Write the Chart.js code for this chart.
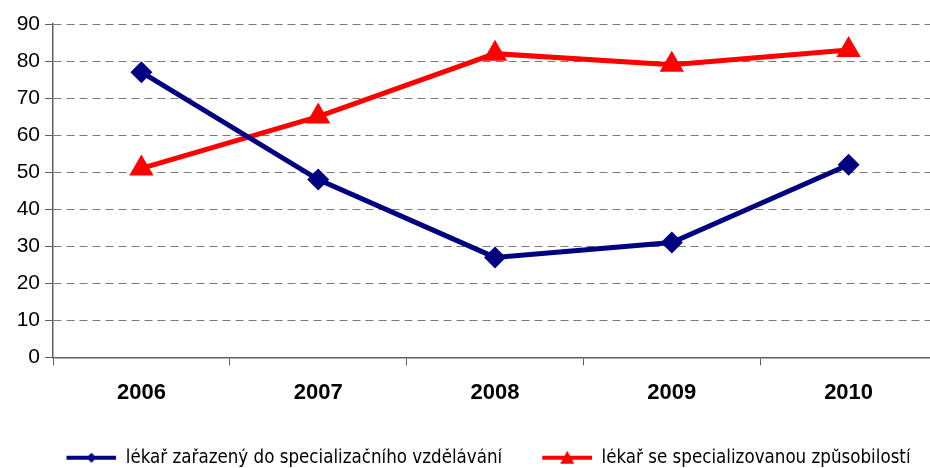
<!DOCTYPE html>
<html lang="cs">
<head>
    <meta charset="UTF-8">
    <title>Lékaři 2006-2010</title>
    <script src="https://cdn.jsdelivr.net/npm/chart.js"></script>
    <style>
        html, body { margin: 0; padding: 0; background: #fff; overflow: hidden; }
        /* graf je o kousek sirsi nez okno, prava hrana je orizla jako v originale */
        .chart-box { width: 937px; height: 468px; }
    </style>
</head>
<body>
    <div class="chart-box">
        <canvas id="lekariChart" width="937" height="468"></canvas>
    </div>

    <script>
        const years = ['2006', '2007', '2008', '2009', '2010'];
        const yTicks = [0, 10, 20, 30, 40, 50, 60, 70, 80, 90];
        const vzdelavani = [77, 48, 27, 31, 52];
        const zpusobilost = [51, 65, 82, 79, 83];
        const seriesNames = ['lékař zařazený do specializačního vzdělávání', 'lékař se specializovanou způsobilostí'];

        // ikonka do legendy: prazdne misto vlevo, pak cara + znacka
        function legendIcon(color, shape) {
            const c = document.createElement('canvas');
            c.width = 90;
            c.height = 16;
            const g = c.getContext('2d');
            g.strokeStyle = color;
            g.fillStyle = color;
            g.lineWidth = 4;
            g.beginPath();
            g.moveTo(40, 8);
            g.lineTo(90, 8);
            g.stroke();
            g.beginPath();
            if (shape === 'diamond') {
                g.moveTo(65, 3); g.lineTo(70, 8); g.lineTo(65, 13); g.lineTo(60, 8);
            } else {
                g.moveTo(65, 1); g.lineTo(72, 14); g.lineTo(58, 14);
            }
            g.closePath();
            g.fill();
            return c;
        }
        const icons = [legendIcon('#000080', 'diamond'), legendIcon('#ff0000', 'triangle')];

        const ctx = document.getElementById('lekariChart').getContext('2d');
        new Chart(ctx, {
            type: 'line',
            data: {
                labels: years,
                datasets: [{
                    label: seriesNames[0],
                    data: vzdelavani,
                    borderColor: '#000080',
                    backgroundColor: '#000080',
                    borderWidth: 5,
                    pointStyle: 'rectRot',
                    pointRadius: 11,
                    pointBorderWidth: 0,
                    tension: 0,
                    clip: false
                }, {
                    label: seriesNames[1],
                    data: zpusobilost,
                    borderColor: '#ff0000',
                    backgroundColor: '#ff0000',
                    borderWidth: 5,
                    pointStyle: 'triangle',
                    pointRadius: 14,
                    pointBorderWidth: 0,
                    tension: 0,
                    clip: false
                }]
            },
            options: {
                responsive: false,
                animation: false,
                layout: { autoPadding: false, padding: { left: 0, right: 0, top: 24, bottom: -9 } },
                plugins: {
                    tooltip: { enabled: false },
                    legend: {
                        position: 'bottom',
                        labels: {
                            usePointStyle: true,
                            pointStyleWidth: 90,
                            padding: 0,
                            color: '#000',
                            font: { family: '"DejaVu Sans Condensed", "Liberation Sans Narrow", sans-serif', size: 18.6 },
                            generateLabels: (chart) => chart.data.datasets.map((ds, i) => ({
                                text: ds.label,
                                pointStyle: icons[i],
                                fillStyle: ds.borderColor,
                                strokeStyle: ds.borderColor,
                                lineWidth: 0,
                                datasetIndex: i,
                                fontColor: '#000'
                            }))
                        }
                    }
                },
                scales: {
                    x: {
                        offset: true,
                        afterFit: (axis) => { axis.paddingLeft = 0; axis.paddingRight = 0; axis.height = 91; },
                        grid: {
                            offset: true,
                            drawOnChartArea: false,
                            tickLength: 8,
                            tickColor: '#606060'
                        },
                        border: { color: '#606060', width: 1.5 },
                        ticks: {
                            color: '#000',
                            padding: 14,
                            font: { family: '"Liberation Sans", Arial, sans-serif', size: 22, weight: 'bold' }
                        }
                    },
                    y: {
                        min: 0,
                        max: 90,
                        afterBuildTicks: (axis) => { axis.ticks = yTicks.map(v => ({ value: v })); },
                        afterFit: (axis) => { axis.width = 53; },
                        grid: {
                            color: '#7a7a7a',
                            lineWidth: 1,
                            tickLength: 8,
                            tickColor: '#606060'
                        },
                        border: { color: '#606060', width: 1.5, dash: [8, 5] },
                        ticks: {
                            color: '#000',
                            padding: 5,
                            font: { family: '"Liberation Sans", Arial, sans-serif', size: 21 }
                        }
                    }
                }
            }
        });
    </script>
</body>
</html>
